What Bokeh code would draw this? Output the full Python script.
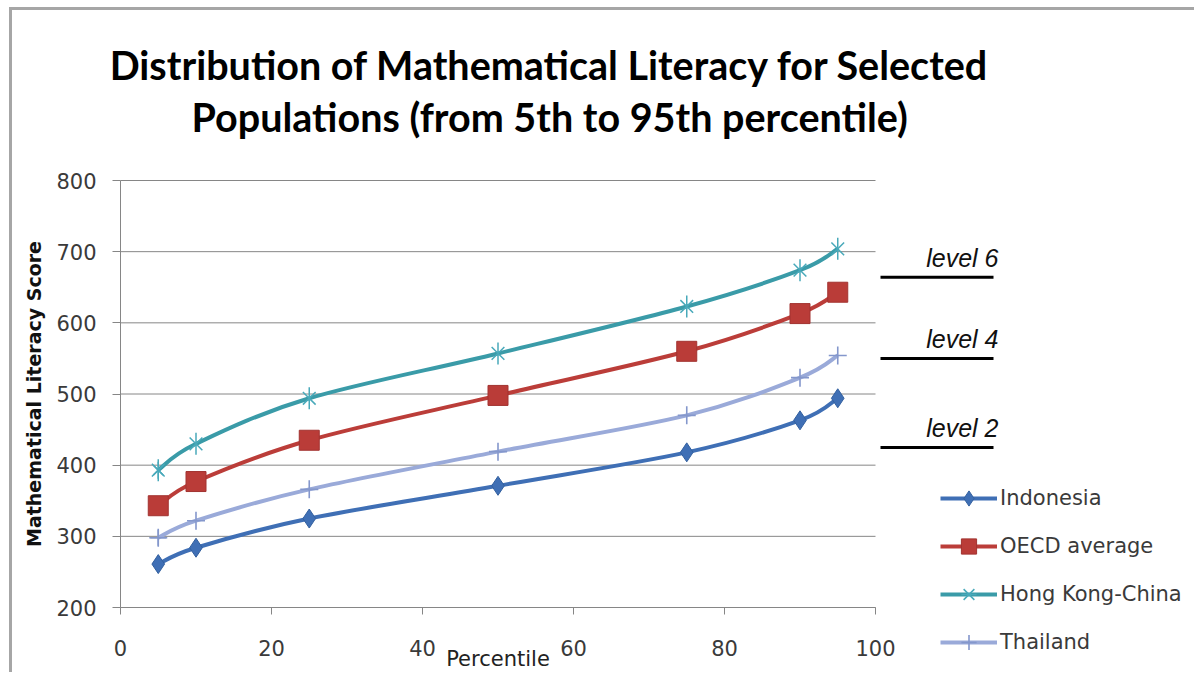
import numpy as np
from bokeh.plotting import figure
from bokeh.models import Range1d, FixedTicker, Legend, LegendItem
from bokeh.embed import file_html
from bokeh.resources import INLINE
from bokeh.core.properties import value

# ---------------- data ----------------
percentiles = [5, 10, 25, 50, 75, 90, 95]
indonesia = [261, 284, 325, 371, 418, 463, 494]
oecd_average = [343, 377, 435, 498, 560, 613, 643]
hong_kong = [393, 430, 494, 557, 623, 674, 704]
thailand = [298, 322, 366, 419, 470, 523, 554]
series_names = ["Indonesia", "OECD average", "Hong Kong-China", "Thailand"]
level_names = ["level 6", "level 4", "level 2"]
level_scores = [664, 550, 425]
y_ticks = [200, 300, 400, 500, 600, 700, 800]
x_ticks = [0, 20, 40, 60, 80, 100]
title_lines = ["Distribution of Mathematical  Literacy for Selected",
               "Populations  (from 5th to 95th percentile)"]
x_label = "Percentile"
y_label = "Mathematical Literacy Score"

# ---------------- layout (pixels) ----------------
W, H = 1185, 665
AX_LEFT_PX = 108          # where percentile 0 sits on the canvas
AX_TOP_PX = 170           # where score 800 sits
AX_BOTTOM_PX = 597        # where score 200 sits
PX_PER_X = 7.55
PX_PER_Y = (AX_BOTTOM_PX - AX_TOP_PX) / (y_ticks[-1] - y_ticks[0])

x_start = -AX_LEFT_PX / PX_PER_X
x_end = (W - AX_LEFT_PX) / PX_PER_X
y_end = y_ticks[-1] + AX_TOP_PX / PX_PER_Y
y_start = y_ticks[0] - (H - AX_BOTTOM_PX) / PX_PER_Y


def ypx(px_from_top):
    """data y for a canvas pixel row"""
    return y_ticks[-1] - (px_from_top - AX_TOP_PX) / PX_PER_Y


def xpx(px_from_left):
    return (px_from_left - AX_LEFT_PX) / PX_PER_X


FONT = "DejaVu Sans"
GRID = "#868686"
TXT = "#3a3a3a"

p = figure(width=W, height=H, output_backend="svg", toolbar_location=None,
           x_range=Range1d(x_start, x_end), y_range=Range1d(y_start, y_end),
           min_border=0, outline_line_color=None,
           styles={"margin-left": "9px", "margin-top": "7px",
                   "border-top": "3px solid #a6a6a6",
                   "border-left": "3px solid #a6a6a6"})
p.xgrid.visible = False
p.ygrid.visible = False

for ax in (p.xaxis[0], p.yaxis[0]):
    ax.axis_line_color = GRID
    ax.major_tick_line_color = GRID
    ax.minor_tick_line_color = None
    ax.major_tick_in = 0
    ax.major_label_text_font = FONT
    ax.major_label_text_font_size = "21px"
    ax.major_label_text_color = TXT
p.xaxis.fixed_location = y_ticks[0]
p.xaxis.bounds = (x_ticks[0], x_ticks[-1])
p.xaxis.ticker = FixedTicker(ticks=x_ticks)
p.xaxis.major_tick_out = 7
p.xaxis.major_label_standoff = 25
p.yaxis.fixed_location = x_ticks[0]
p.yaxis.bounds = (y_ticks[0], y_ticks[-1])
p.yaxis.ticker = FixedTicker(ticks=y_ticks)
p.yaxis.major_tick_out = 8
p.yaxis.major_label_standoff = 16

# horizontal gridlines limited to the 0-100 span
p.segment(x0=[x_ticks[0]] * len(y_ticks), x1=[x_ticks[-1]] * len(y_ticks),
          y0=y_ticks, y1=y_ticks, line_color=GRID, line_width=1)


def bezier_parts(xs, ys, t=1.0 / 6.0):
    n = len(xs)
    out = dict(x0=[], y0=[], x1=[], y1=[], cx0=[], cy0=[], cx1=[], cy1=[])
    for i in range(n - 1):
        ip = max(i - 1, 0)
        inx = min(i + 2, n - 1)
        out["x0"].append(xs[i]); out["y0"].append(ys[i])
        out["x1"].append(xs[i + 1]); out["y1"].append(ys[i + 1])
        out["cx0"].append(xs[i] + (xs[i + 1] - xs[ip]) * t)
        out["cy0"].append(ys[i] + (ys[i + 1] - ys[ip]) * t)
        out["cx1"].append(xs[i + 1] - (xs[inx] - xs[i]) * t)
        out["cy1"].append(ys[i + 1] - (ys[inx] - ys[i]) * t)
    return out


styles = [
    dict(vals=indonesia, color="#3F6FB5", marker="diamond", size=19, fill="#3F6FB5",
         mline="#33609f", mw=1, lsize=16),
    dict(vals=oecd_average, color="#BB3D39", marker="square", size=20, fill="#BA3C38",
         mline="#a23330", mw=1, lsize=16),
    dict(vals=hong_kong, color="#3A9BA8", marker="x", size=18, fill=None,
         mline="#48A9BA", mw=1.5, lsize=14),
    dict(vals=thailand, color="#9AAAD9", marker="cross", size=18, fill=None,
         mline="#8497CC", mw=1.6, lsize=16),
]

legend_items = []
for name, st in zip(series_names, styles):
    vals = st["vals"]
    bz = bezier_parts(percentiles, vals)
    p.bezier(line_color=st["color"], line_width=4, **bz)
    # legend-only renderers: a single point, hidden under the real marker
    lr = p.line(percentiles[:1], vals[:1], line_color=st["color"], line_width=4)
    if st["marker"] == "x":
        lm = [p.scatter(percentiles[:1], vals[:1], marker="x", size=st["lsize"],
                        line_color=st["mline"], line_width=st["mw"]),
              p.scatter(percentiles[:1], vals[:1], marker="dash", angle=np.pi / 2,
                        size=st["lsize"] + 3, line_color=st["mline"], line_width=st["mw"])]
        p.scatter(percentiles, vals, marker="x", size=st["size"],
                  line_color=st["mline"], line_width=st["mw"])
        p.scatter(percentiles, vals, marker="dash", angle=np.pi / 2,
                  size=st["size"] + 4, line_color=st["mline"], line_width=st["mw"])
    else:
        lm = [p.scatter(percentiles[:1], vals[:1], marker=st["marker"], size=st["lsize"],
                        fill_color=st["fill"], line_color=st["mline"], line_width=st["mw"])]
        p.scatter(percentiles, vals, marker=st["marker"], size=st["size"],
                  fill_color=st["fill"], line_color=st["mline"], line_width=st["mw"])
    legend_items.append(LegendItem(label=name, renderers=[lr] + lm))

legend = Legend(items=legend_items, location=(928, 14), padding=0, margin=0,
                border_line_color=None, background_fill_alpha=0,
                glyph_width=57, glyph_height=38, label_height=38, spacing=10,
                label_standoff=3, label_text_font=FONT, label_text_font_size="21px",
                label_text_color=TXT)
p.add_layout(legend)

# level markers to the right of the percentile range
lvl_x0, lvl_x1, lvl_tx = xpx(868), xpx(981), xpx(986)
lvl_lift = 19.5 / PX_PER_Y
p.segment(x0=[lvl_x0] * 3, x1=[lvl_x1] * 3, y0=level_scores, y1=level_scores,
          line_color="black", line_width=3)
p.text(x=[lvl_tx] * 3, y=[s + lvl_lift for s in level_scores], text=level_names,
       text_align="right", text_baseline="middle",
       text_font=value("Liberation Sans"), text_font_style="italic",
       text_font_size="25px", text_color="#111111")

# titles
p.text(x=[xpx(542)] * 2, y=[ypx(54), ypx(106)], text=title_lines,
       text_align="center", text_baseline="middle", text_font=value("Lato"),
       text_font_style="bold", text_font_size="39.5px", text_color="#000000")

# axis titles
p.text(x=[(x_ticks[0] + x_ticks[-1]) / 2], y=[ypx(648)], text=[x_label],
       text_align="center", text_baseline="middle", text_font=value(FONT),
       text_font_size="21px", text_color="#222222")
p.text(x=[xpx(21)], y=[(y_ticks[0] + y_ticks[-1]) / 2], text=[y_label], angle=np.pi / 2,
       text_align="center", text_baseline="middle", text_font=value(FONT),
       text_font_style="bold", text_font_size="19px", text_color="#111111")

open("out.html", "w").write(file_html(p, INLINE))
